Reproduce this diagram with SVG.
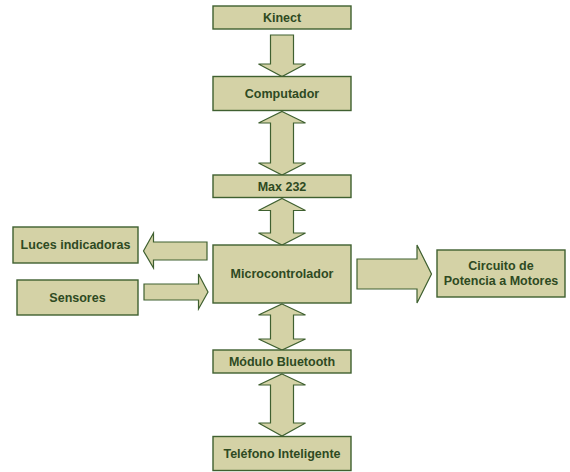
<svg xmlns="http://www.w3.org/2000/svg" width="570" height="472" viewBox="0 0 570 472">
<style>
.box{fill:#d4d2a6;stroke:#3f6030;stroke-width:1.4}
.arr{fill:#d4d2a6;stroke:#3f6030;stroke-width:1.2;stroke-linejoin:miter}
text{font-family:"Liberation Sans",Arial,sans-serif;font-weight:bold;font-size:12.5px;fill:#2e4a22;text-anchor:middle;dominant-baseline:central}
</style>
<rect width="570" height="472" fill="#ffffff"/>
<g id="connectors">
<polygon class="arr" points="270.5,35 293.5,35 293.5,64 305.5,64 282,76.5 258.5,64 270.5,64"/>
<polygon class="arr" points="282,111.5 305.5,123 293.5,123 293.5,163 305.5,163 282,175 258.5,163 270.5,163 270.5,123 258.5,123"/>
<polygon class="arr" points="282,198.5 305.5,210.5 293.5,210.5 293.5,233 305.5,233 282,245 258.5,233 270.5,233 270.5,210.5 258.5,210.5"/>
<polygon class="arr" points="282,304 305.5,315 293.5,315 293.5,339 305.5,339 282,350 258.5,339 270.5,339 270.5,315 258.5,315"/>
<polygon class="arr" points="282,374 305.5,385 293.5,385 293.5,423 305.5,423 282,436 258.5,423 270.5,423 270.5,385 258.5,385"/>
<polygon class="arr" points="207,242 207,260 153.5,260 153.5,268 143.5,251 153.5,233 153.5,242"/>
<polygon class="arr" points="144,284 198.5,284 198.5,274 208,292 198.5,309 198.5,300 144,300"/>
<polygon class="arr" points="357,259 417,259 417,245 431.5,274 417,303 417,289 357,289"/>
</g>
<g id="kinect"><rect class="box" x="213" y="6" width="138" height="23"/><text x="282" y="17.5">Kinect</text></g>
<g id="computador"><rect class="box" x="213" y="76.5" width="138" height="34"/><text x="282" y="93.5">Computador</text></g>
<g id="max232"><rect class="box" x="213" y="175" width="138" height="22.5"/><text x="282" y="186.5">Max 232</text></g>
<g id="microcontrolador"><rect class="box" x="213" y="245" width="138" height="58"/><text x="282" y="273.5">Microcontrolador</text></g>
<g id="luces"><rect class="box" x="13" y="227" width="125" height="36"/><text x="75.5" y="245">Luces indicadoras</text></g>
<g id="sensores"><rect class="box" x="17" y="280" width="121" height="35"/><text x="77.5" y="297.5">Sensores</text></g>
<g id="circuito"><rect class="box" x="437" y="250" width="128" height="47"/><text x="501" y="266">Circuito de</text><text x="501" y="281">Potencia a Motores</text></g>
<g id="bluetooth"><rect class="box" x="213" y="350" width="138" height="23"/><text x="282" y="361.5">Módulo Bluetooth</text></g>
<g id="telefono"><rect class="box" x="213" y="436.5" width="138" height="34"/><text x="282" y="454">Teléfono Inteligente</text></g>
</svg>
